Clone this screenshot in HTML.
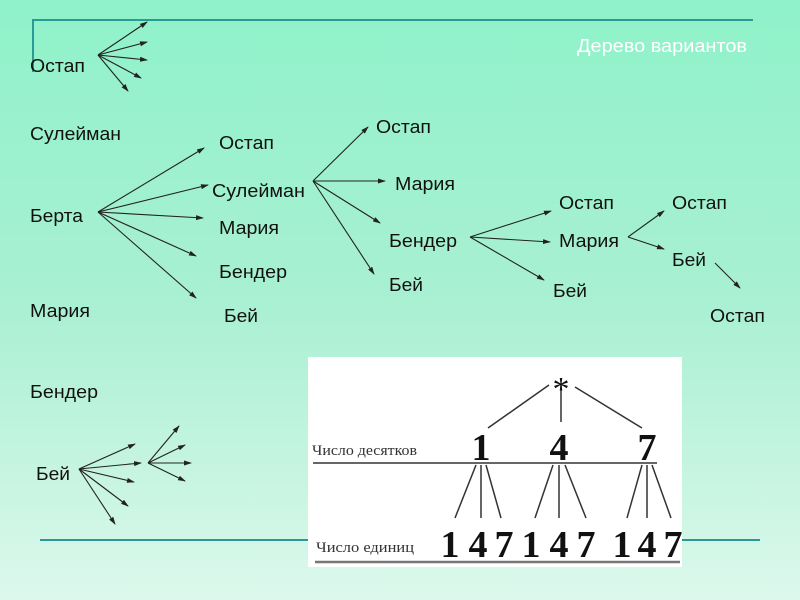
<!DOCTYPE html>
<html><head><meta charset="utf-8"><style>
html,body{margin:0;padding:0;width:800px;height:600px;overflow:hidden}
body{background:linear-gradient(#8ff2c9,#a9f0d3 50%,#dcf8ec)}
</style></head><body>
<svg width="800" height="600" xmlns="http://www.w3.org/2000/svg" style="position:absolute;left:0;top:0">
<defs><marker id="a" markerWidth="8" markerHeight="6" refX="7" refY="3" orient="auto" markerUnits="userSpaceOnUse"><path d="M0,0.5 L8,3 L0,5.5 z" fill="#222"/></marker></defs>
<g stroke="#2a9a98" stroke-width="2" fill="none">
<path d="M33,72 V20 H753"/>
<path d="M40,540 H310 M682,540 H760"/>
</g>
<g font-family="Liberation Sans, sans-serif" font-size="18" fill="#111">
<text x="30" y="72" textLength="55" lengthAdjust="spacingAndGlyphs">Остап</text><text x="30" y="140" textLength="91" lengthAdjust="spacingAndGlyphs">Сулейман</text><text x="30" y="222" textLength="53" lengthAdjust="spacingAndGlyphs">Берта</text>
<text x="30" y="317" textLength="60" lengthAdjust="spacingAndGlyphs">Мария</text><text x="30" y="398" textLength="68" lengthAdjust="spacingAndGlyphs">Бендер</text><text x="36" y="480" textLength="34" lengthAdjust="spacingAndGlyphs">Бей</text>
<text x="219" y="149" textLength="55" lengthAdjust="spacingAndGlyphs">Остап</text><text x="212" y="197" textLength="93" lengthAdjust="spacingAndGlyphs">Сулейман</text><text x="219" y="234" textLength="60" lengthAdjust="spacingAndGlyphs">Мария</text>
<text x="219" y="278" textLength="68" lengthAdjust="spacingAndGlyphs">Бендер</text><text x="224" y="322" textLength="34" lengthAdjust="spacingAndGlyphs">Бей</text>
<text x="376" y="133" textLength="55" lengthAdjust="spacingAndGlyphs">Остап</text><text x="395" y="190" textLength="60" lengthAdjust="spacingAndGlyphs">Мария</text><text x="389" y="247" textLength="68" lengthAdjust="spacingAndGlyphs">Бендер</text><text x="389" y="291" textLength="34" lengthAdjust="spacingAndGlyphs">Бей</text>
<text x="559" y="209" textLength="55" lengthAdjust="spacingAndGlyphs">Остап</text><text x="559" y="247" textLength="60" lengthAdjust="spacingAndGlyphs">Мария</text><text x="553" y="297" textLength="34" lengthAdjust="spacingAndGlyphs">Бей</text>
<text x="672" y="209" textLength="55" lengthAdjust="spacingAndGlyphs">Остап</text><text x="672" y="266" textLength="34" lengthAdjust="spacingAndGlyphs">Бей</text><text x="710" y="322" textLength="55" lengthAdjust="spacingAndGlyphs">Остап</text>
<text x="577" y="52" fill="#fff" textLength="170" lengthAdjust="spacingAndGlyphs">Дерево вариантов</text>
</g>
<g stroke="#222" stroke-width="1.1" marker-end="url(#a)">
<line x1="98" y1="55" x2="147" y2="22"/><line x1="98" y1="55" x2="147" y2="42"/><line x1="98" y1="55" x2="147" y2="60"/><line x1="98" y1="55" x2="141" y2="78"/><line x1="98" y1="55" x2="128" y2="91"/>
<line x1="98" y1="212" x2="204" y2="148"/><line x1="98" y1="212" x2="208" y2="185"/><line x1="98" y1="212" x2="203" y2="218"/><line x1="98" y1="212" x2="196" y2="256"/><line x1="98" y1="212" x2="196" y2="298"/>
<line x1="313" y1="181" x2="368" y2="127"/><line x1="313" y1="181" x2="385" y2="181"/><line x1="313" y1="181" x2="380" y2="223"/><line x1="313" y1="181" x2="374" y2="274"/>
<line x1="470" y1="237" x2="551" y2="211"/><line x1="470" y1="237" x2="550" y2="242"/><line x1="470" y1="237" x2="544" y2="280"/>
<line x1="628" y1="237" x2="664" y2="211"/><line x1="628" y1="237" x2="664" y2="249"/>
<line x1="715" y1="263" x2="740" y2="288"/>
<line x1="79" y1="469" x2="135" y2="444"/><line x1="79" y1="469" x2="141" y2="463"/><line x1="79" y1="469" x2="134" y2="482"/><line x1="79" y1="469" x2="128" y2="506"/><line x1="79" y1="469" x2="115" y2="524"/>
<line x1="148" y1="463" x2="179" y2="426"/><line x1="148" y1="463" x2="185" y2="445"/><line x1="148" y1="463" x2="191" y2="463"/><line x1="148" y1="463" x2="185" y2="481"/>
</g>
<rect x="308" y="357" width="374" height="210" fill="#fff"/>
<g stroke="#333" stroke-width="1.5">
<line x1="549" y1="385" x2="488" y2="428"/><line x1="561" y1="385" x2="561" y2="422"/><line x1="575" y1="387" x2="642" y2="428"/>
<line x1="313" y1="463" x2="657" y2="463" stroke-width="2" stroke="#666"/>
<line x1="476" y1="465" x2="455" y2="518"/><line x1="481" y1="465" x2="481" y2="518"/><line x1="486" y1="465" x2="501" y2="518"/>
<line x1="553" y1="465" x2="535" y2="518"/><line x1="559" y1="465" x2="559" y2="518"/><line x1="565" y1="465" x2="586" y2="518"/>
<line x1="642" y1="465" x2="627" y2="518"/><line x1="647" y1="465" x2="647" y2="518"/><line x1="652" y1="465" x2="671" y2="518"/>
<line x1="315" y1="562" x2="680" y2="562" stroke-width="2.5" stroke="#777"/>
</g>
<g font-family="Liberation Serif, serif" fill="#111">
<text x="561" y="400" font-size="34" text-anchor="middle">*</text>
<g font-size="38" font-weight="bold" text-anchor="middle">
<text x="481" y="460">1</text><text x="559" y="460">4</text><text x="647" y="460">7</text>
<text x="450" y="557">1</text><text x="478" y="557">4</text><text x="504" y="557">7</text>
<text x="531" y="557">1</text><text x="559" y="557">4</text><text x="586" y="557">7</text>
<text x="622" y="557">1</text><text x="647" y="557">4</text><text x="673" y="557">7</text>
</g>
<text x="312" y="455" font-size="15" fill="#333" textLength="105" lengthAdjust="spacingAndGlyphs">Число десятков</text>
<text x="316" y="552" font-size="15" fill="#333" textLength="98" lengthAdjust="spacingAndGlyphs">Число единиц</text>
</g>
</svg>
</body></html>
